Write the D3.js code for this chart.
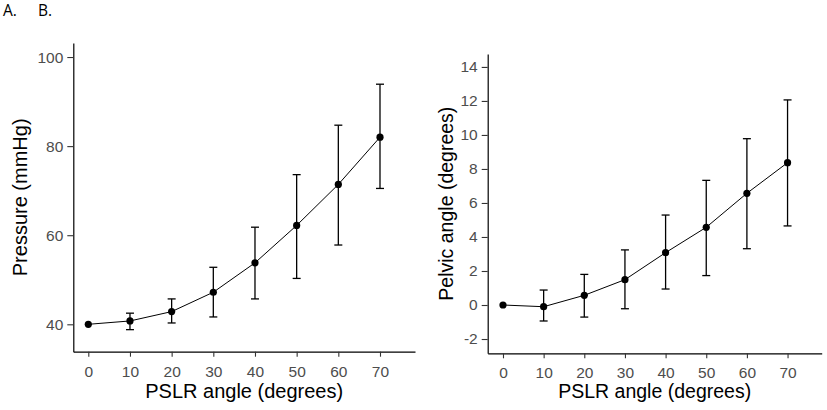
<!DOCTYPE html>
<html>
<head>
<meta charset="utf-8">
<script src="https://cdn.jsdelivr.net/npm/d3@7/dist/d3.min.js"></script>
<style>
  html, body { margin: 0; padding: 0; background: #fff; }
  svg { display: block; }
  .tick text { fill: #4d4d4d; font-family: "Liberation Sans", Arial, sans-serif; font-size: 15.5px; }
  .tick line { stroke: #333; stroke-width: 1.1; }
  .domain { stroke: #000; stroke-width: 1.2; }
</style>
</head>
<body>
<svg id="chart" width="827" height="410"></svg>
<script>
// ---- data ----
const pslrAngles = [0, 10, 20, 30, 40, 50, 60, 70];

const pressureMean = [40, 40.75, 42.85, 47.2, 53.8, 62.2, 71.4, 82.0];
const pressureLow  = [40, 38.8, 40.3, 41.65, 45.7, 50.3, 57.8, 70.5];
const pressureHigh = [40, 42.5, 45.7, 52.8, 61.8, 73.6, 84.7, 93.9];
const pressureTicks = [40, 60, 80, 100];

const pelvicMean = [0, -0.1, 0.57, 1.49, 3.08, 4.57, 6.57, 8.37];
const pelvicLow  = [0, -0.94, -0.71, -0.22, 0.94, 1.73, 3.31, 4.65];
const pelvicHigh = [0, 0.88, 1.80, 3.24, 5.29, 7.33, 9.78, 12.06];
const pelvicTicks = [-2, 0, 2, 4, 6, 8, 10, 12, 14];

const xTicks = [0, 10, 20, 30, 40, 50, 60, 70];
const panelLetters = ["A.", "B."];
const xTitle = "PSLR angle (degrees)";
const yTitles = ["Pressure (mmHg)", "Pelvic angle (degrees)"];

// ---- drawing ----
const svg = d3.select("#chart");

const panels = [
  { mean: pressureMean, low: pressureLow, high: pressureHigh, ticks: pressureTicks,
    xDomain: [-3.6, 78.4], xRange: [73.3, 415],
    yDomain: [33.85, 103.15], yRange: [351.7, 43],
    yTitle: yTitles[0], yTitleX: 27, xTitleSize: 20 },
  { mean: pelvicMean, low: pelvicLow, high: pelvicHigh, ticks: pelvicTicks,
    xDomain: [-3.76, 78.4], xRange: [487.7, 821.7],
    yDomain: [-2.84, 14.76], yRange: [353.3, 54],
    yTitle: yTitles[1], yTitleX: 453, xTitleSize: 19.5 }
];

const plainFmt = d => String(d);

panels.forEach(p => {
  const x = d3.scaleLinear().domain(p.xDomain).range(p.xRange);
  const y = d3.scaleLinear().domain(p.yDomain).range(p.yRange);
  const g = svg.append("g");

  // axes
  g.append("g")
    .attr("transform", `translate(0,${p.yRange[0]})`)
    .call(d3.axisBottom(x).tickValues(xTicks).tickFormat(plainFmt).tickSize(5).tickPadding(9).tickSizeOuter(0));
  g.append("g")
    .attr("transform", `translate(${p.xRange[0]},0)`)
    .call(d3.axisLeft(y).tickValues(p.ticks).tickFormat(plainFmt).tickSize(6).tickPadding(4).tickSizeOuter(0));

  const data = pslrAngles.map((a, i) => ({ a, m: p.mean[i], lo: p.low[i], hi: p.high[i] }));

  // line
  g.append("path")
    .datum(data)
    .attr("fill", "none")
    .attr("stroke", "#000")
    .attr("stroke-width", 1)
    .attr("d", d3.line().x(d => x(d.a)).y(d => y(d.m)));

  // error bars
  const eb = g.selectAll(".eb").data(data.filter(d => d.hi !== d.lo)).enter().append("g")
    .attr("stroke", "#000").attr("stroke-width", 1.3);
  const capW = 4;
  eb.append("line").attr("x1", d => x(d.a)).attr("x2", d => x(d.a))
    .attr("y1", d => y(d.lo)).attr("y2", d => y(d.hi));
  eb.append("line").attr("x1", d => x(d.a) - capW).attr("x2", d => x(d.a) + capW)
    .attr("y1", d => y(d.hi)).attr("y2", d => y(d.hi));
  eb.append("line").attr("x1", d => x(d.a) - capW).attr("x2", d => x(d.a) + capW)
    .attr("y1", d => y(d.lo)).attr("y2", d => y(d.lo));

  // points
  g.selectAll(".pt").data(data).enter().append("circle")
    .attr("cx", d => x(d.a)).attr("cy", d => y(d.m)).attr("r", 3.6).attr("fill", "#000");

  // titles
  g.append("text")
    .attr("x", (p.xRange[0] + p.xRange[1]) / 2)
    .attr("y", 398)
    .attr("text-anchor", "middle")
    .attr("font-family", "Liberation Sans, Arial, sans-serif")
    .attr("font-size", p.xTitleSize)
    .attr("fill", "#000")
    .text(xTitle);
  g.append("text")
    .attr("transform", `translate(${p.yTitleX},${(p.yRange[0] + p.yRange[1]) / 2}) rotate(-90)`)
    .attr("text-anchor", "middle")
    .attr("font-family", "Liberation Sans, Arial, sans-serif")
    .attr("font-size", p.xTitleSize)
    .attr("fill", "#000")
    .text(p.yTitle);
});

// panel letters
svg.selectAll(".letter").data(panelLetters).enter().append("text")
  .attr("x", (d, i) => i === 0 ? 3 : 38)
  .attr("y", 16)
  .attr("font-family", "Open Sans, Noto Sans, sans-serif")
  .attr("font-size", 15.5)
  .attr("fill", "#000")
  .text(d => d);
</script>
</body>
</html>
